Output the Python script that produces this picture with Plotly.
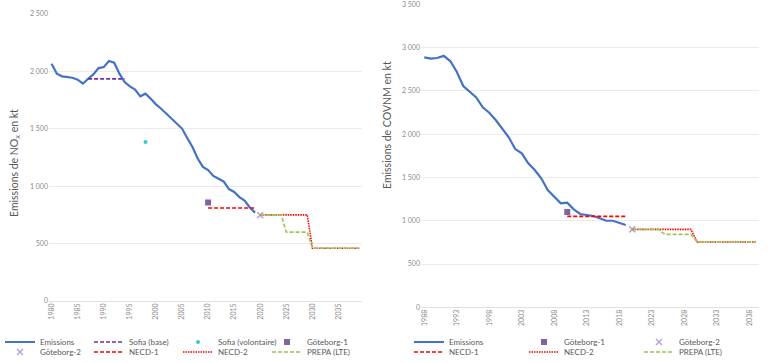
import plotly.graph_objects as go

# ---------------- Data: NOx (left panel) ----------------
nox_years = list(range(1980, 2020))
nox_emissions = [2067, 1980, 1957, 1951, 1945, 1928, 1893, 1936, 1974, 2029,
                 2038, 2090, 2076, 1980, 1907, 1870, 1841, 1783, 1806, 1762,
                 1713, 1675, 1632, 1588, 1545, 1502, 1420, 1342, 1241, 1168,
                 1140, 1090, 1065, 1040, 975, 950, 905, 875, 815, 770]
nox_sofia_base_x = [1987, 1994]
nox_sofia_base_y = [1935, 1935]
nox_sofia_vol_x = [1998]
nox_sofia_vol_y = [1385]
nox_gote1_x = [2010]
nox_gote1_y = [858]
nox_gote2_x = [2020]
nox_gote2_y = [748]
nox_necd1_x = [2010, 2019]
nox_necd1_y = [810, 810]
nox_necd2_x = [2020, 2029, 2030, 2039]
nox_necd2_y = [750, 750, 460, 460]
nox_prepa_x = [2020, 2024, 2025, 2029, 2030, 2039]
nox_prepa_y = [750, 750, 600, 600, 460, 460]

# ---------------- Data: COVNM (right panel) ----------------
cov_years = list(range(1988, 2020))
cov_emissions = [2887, 2872, 2880, 2905, 2845, 2721, 2556, 2490, 2425, 2310,
                 2248, 2163, 2067, 1964, 1828, 1779, 1663, 1586, 1490, 1355,
                 1278, 1201, 1208, 1132, 1078, 1070, 1055, 1028, 1000, 1000,
                 977, 950]
cov_gote1_x = [2010]
cov_gote1_y = [1100]
cov_gote2_x = [2020]
cov_gote2_y = [900]
cov_necd1_x = [2010, 2019]
cov_necd1_y = [1050, 1050]
cov_necd2_x = [2020, 2029, 2030, 2039]
cov_necd2_y = [900, 900, 755, 755]
cov_prepa_x = [2020, 2024, 2025, 2029, 2030, 2039]
cov_prepa_y = [900, 900, 843, 843, 755, 755]

# ---------------- Styles ----------------
C_EMI = "#4472C4"
C_SOFB = "#7030A0"
C_SOFV = "#33CCCC"
C_G1 = "#8064A2"
C_G2 = "#B9A4DA"
C_RED = "#FF0000"
C_GREEN = "#9BC550"
FONT = "Lato"
GREY = "#595959"
DASH = "4px,2px"
DOT = "1.5px,1px"

W, H = 768, 363
fig = go.Figure()

def line(x, y, name, color, dash, xa, ya, leg, width=1.6):
    fig.add_trace(go.Scatter(x=x, y=y, name=name, mode="lines",
                             line=dict(color=color, width=width, dash=dash),
                             xaxis=xa, yaxis=ya, legend=leg, hoverinfo="skip"))

def pts(x, y, name, color, symbol, size, xa, ya, leg, lw=0):
    fig.add_trace(go.Scatter(x=x, y=y, name=name, mode="markers",
                             marker=dict(color=color, symbol=symbol, size=size,
                                         line=dict(width=lw, color=color)),
                             xaxis=xa, yaxis=ya, legend=leg, hoverinfo="skip"))

# Left panel
line(nox_years, nox_emissions, "Emissions", C_EMI, "solid", "x", "y", "legend", 2.2)
line(nox_sofia_base_x, nox_sofia_base_y, "Sofia (base)", C_SOFB, DASH, "x", "y", "legend")
pts(nox_sofia_vol_x, nox_sofia_vol_y, "Sofia (volontaire)", C_SOFV, "circle", 4, "x", "y", "legend")
pts(nox_gote1_x, nox_gote1_y, "Göteborg-1", C_G1, "square", 6, "x", "y", "legend")
pts(nox_gote2_x, nox_gote2_y, "Göteborg-2", C_G2, "x-thin-open", 6, "x", "y", "legend2", 1.5)
line(nox_necd1_x, nox_necd1_y, "NECD-1", C_RED, DASH, "x", "y", "legend2")
line(nox_necd2_x, nox_necd2_y, "NECD-2", C_RED, DOT, "x", "y", "legend2")
line(nox_prepa_x, nox_prepa_y, "PREPA (LTE)", C_GREEN, DASH, "x", "y", "legend2")

# Right panel
line(cov_years, cov_emissions, "Emissions", C_EMI, "solid", "x2", "y2", "legend3", 2.2)
pts(cov_gote1_x, cov_gote1_y, "Göteborg-1", C_G1, "square", 6, "x2", "y2", "legend3")
pts(cov_gote2_x, cov_gote2_y, "Göteborg-2", C_G2, "x-thin-open", 6, "x2", "y2", "legend3", 1.5)
line(cov_necd1_x, cov_necd1_y, "NECD-1", C_RED, DASH, "x2", "y2", "legend4")
line(cov_necd2_x, cov_necd2_y, "NECD-2", C_RED, DOT, "x2", "y2", "legend4")
line(cov_prepa_x, cov_prepa_y, "PREPA (LTE)", C_GREEN, DASH, "x2", "y2", "legend4")

def px_x(a, b):
    return [a / W, b / W]

def px_y(top, bottom):
    return [(H - bottom) / H, (H - top) / H]

tickfont = dict(family=FONT, size=7, color="#8C8C8C")
xtickfont = dict(family=FONT, size=7, color="#8C8C8C")

common_x = dict(showgrid=False, zeroline=False, showline=False, ticks="",
                tickangle=-90, tickfont=xtickfont, dtick=5, automargin=False,
                ticklabeloverflow="allow")
common_y = dict(showgrid=True, gridcolor="#EBEBEB", gridwidth=1, zeroline=True,
                zerolinecolor="#E0E0E0", zerolinewidth=1, showline=False, ticks="",
                tickfont=tickfont, dtick=500, tickformat=",d", automargin=False,
                ticklabeloverflow="allow", tick0=0)

leg_common = dict(orientation="h", font=dict(family=FONT, size=8, color=GREY),
                  bgcolor="rgba(0,0,0,0)", borderwidth=0, xanchor="left",
                  yanchor="middle", entrywidthmode="pixels", itemwidth=30,
                  traceorder="normal")

fig.update_layout(
    width=W, height=H,
    margin=dict(l=0, r=0, t=0, b=0, autoexpand=False),
    paper_bgcolor="white", plot_bgcolor="white",
    separators=", ",
    font=dict(family=FONT, color=GREY),
    showlegend=True,
    xaxis=dict(domain=px_x(49, 362), range=[1979.5, 2039.5], tick0=1980, anchor="y", **common_x),
    yaxis=dict(domain=px_y(14, 301), range=[0, 2500], anchor="x", **common_y),
    xaxis2=dict(domain=px_x(421, 759), range=[1987.5, 2039.5], tick0=1988, anchor="y2", **common_x),
    yaxis2=dict(domain=px_y(4.3, 307.3), range=[0, 3500.5], anchor="x2", **common_y),
    legend=dict(x=0 / W, y=(H - 342) / H, entrywidth=44, **leg_common),
    legend2=dict(x=0 / W, y=(H - 352) / H, entrywidth=44, **leg_common),
    legend3=dict(x=409 / W, y=(H - 342) / H, entrywidth=70, **leg_common),
    legend4=dict(x=409 / W, y=(H - 352) / H, entrywidth=70, **leg_common),
    annotations=[
        dict(text="Emissions de NO<sub>x</sub> en kt", x=15 / W, y=(H - 163) / H,
             xref="paper", yref="paper", textangle=-90, showarrow=False,
             xanchor="center", yanchor="middle",
             font=dict(family=FONT, size=10.5, color=GREY)),
        dict(text="Emissions de COVNM en kt", x=387 / W, y=(H - 125) / H,
             xref="paper", yref="paper", textangle=-90, showarrow=False,
             xanchor="center", yanchor="middle",
             font=dict(family=FONT, size=10.5, color=GREY)),
    ],
)

fig.write_html("out.html", config={"displayModeBar": False},
               post_script="document.body.style.margin='0px';")
